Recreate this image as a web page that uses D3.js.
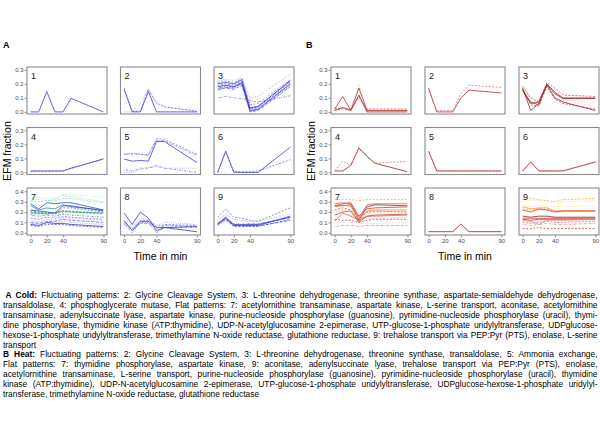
<!DOCTYPE html>
<html><head><meta charset="utf-8">
<script src="https://cdn.jsdelivr.net/npm/d3@7"></script>
<style>body{margin:0;background:#fff}svg{display:block}</style>
</head><body>
<svg id="c" width="600" height="424"></svg>
<script>
// ---------- data ----------
const timeMin = [0, 10, 20, 30, 40, 50, 90];
const xTicks = [0, 20, 40, 90];
const yTicksShort = [0, 0.1, 0.2, 0.3];
const yTicksTall = [0, 0.1, 0.2, 0.3, 0.4];
const panelLabels = ["1","2","3","4","5","6","7","8","9"];

// Cold (A) — EFM fraction per time point
const coldP1 = [[0,0,0.145,0,0,0.097,0]];
const coldP2 = [[0.16,0,0,0.145,0,0,0],[0.17,0.005,0.005,0.16,0.06,0.035,0.005],[0,0,0.06,0.165,0.07,0.04,0.005]];
const coldP3 = [
 [0.20,0.21,0.20,0.23,0.03,0.04,0.22],[0.19,0.20,0.19,0.22,0.02,0.03,0.21],
 [0.18,0.19,0.18,0.21,0.01,0.02,0.20],[0.17,0.185,0.175,0.20,0.005,0.015,0.19],
 [0.155,0.17,0.16,0.19,0,0.01,0.18],[0.21,0.22,0.21,0.235,0.05,0.06,0.23],
 [0.22,0.23,0.225,0.245,0.10,0.11,0.27],[0.10,0.11,0.10,0.095,0.08,0.07,0.115],
 [0.165,0.175,0.17,0.205,0.025,0.035,0.225]];
const coldP4 = [[0.01,0.01,0.01,0.01,0.01,0.03,0.095],[0.008,0.008,0.008,0.008,0.01,0.028,0.098]];
const coldP5 = [[0.095,0.08,0.085,0.08,0.22,0.22,0.07],[0.13,0.13,0.13,0.12,0.23,0.225,0.12],
 [0.13,0.135,0.13,0.125,0.24,0.235,0.13],[0.02,0.01,0.03,0.03,0.05,0.03,0],[0,0,0.02,0.035,0.04,0.03,0.03]];
const coldP6 = [[0,0.15,0,0,0,0,0.18],[0,0.15,0.005,0.005,0.005,0.01,0.09]];
const coldP7 = [
 [0.33,0.34,0.33,0.33,0.37,0.37,0.34],[0.31,0.32,0.31,0.32,0.36,0.35,0.30],
 [0.30,0.30,0.31,0.31,0.33,0.33,0.29],[0.28,0.23,0.29,0.28,0.29,0.29,0.22],
 [0.26,0.22,0.24,0.23,0.27,0.25,0.22],[0.22,0.21,0.20,0.19,0.26,0.26,0.21],
 [0.21,0.20,0.20,0.18,0.24,0.24,0.20],[0.19,0.19,0.18,0.19,0.21,0.20,0.19],
 [0.18,0.18,0.19,0.18,0.20,0.20,0.18],[0.20,0.19,0.19,0.20,0.21,0.21,0.19],
 [0.17,0.16,0.17,0.16,0.18,0.17,0.15],[0.14,0.13,0.15,0.14,0.16,0.15,0.13],
 [0.12,0.10,0.13,0.12,0.15,0.14,0.12],[0.10,0.09,0.11,0.11,0.13,0.12,0.10],
 [0.08,0.07,0.10,0.09,0.09,0.08,0.06],[0.07,0.06,0.08,0.08,0.08,0.07,0.05],
 [0.09,0.08,0.09,0.085,0.11,0.10,0.08]];
const coldP8 = [[0.19,0.08,0.20,0.14,0.02,0.05,0.06],[0.12,0.02,0.11,0.11,0.05,0.05,0.01],
 [0.10,0.04,0.12,0.12,0.06,0.08,0.07],[0.15,0.06,0.14,0.13,0.07,0.10,0.08],
 [0.09,0,0.10,0.10,0,0.05,0.05],[0.08,0.03,0.09,0.09,0.04,0.07,0.06]];
const coldP9 = [[0.15,0.23,0.15,0.14,0.12,0.11,0.24],[0.12,0.18,0.13,0.12,0.11,0.11,0.18],
 [0.09,0.14,0.07,0.07,0.07,0.07,0.16],[0.08,0.15,0.08,0.08,0.08,0.08,0.15],
 [0.07,0.12,0.06,0.06,0.06,0.06,0.13],[0.10,0.13,0.09,0.08,0.09,0.09,0.14],
 [0.08,0.13,0.07,0.065,0.065,0.065,0.12]];

// Heat (B)
const heatP1 = [[0.02,0.11,0.01,0.17,0.01,0.01,0.01],[0.01,0.03,0.01,0.12,0,0,0],
 [0.02,0.03,0.02,0.11,0.02,0.02,0.02],[0.03,0.03,0.02,0.20,0.02,0.02,0.02],[0.01,0.02,0.01,0.10,0.01,0.01,0.01]];
const heatP2 = [[0.17,0,0,0,0.10,0.155,0.135],[0.15,0.01,0.01,0.01,0.13,0.19,0.175]];
const heatP3 = [[0.17,0.01,0.06,0.19,0.10,0.07,0.01],[0.15,0.07,0.05,0.20,0.14,0.10,0.10],
 [0.18,0.10,0.07,0.21,0.17,0.12,0.11],[0.18,0.08,0.06,0.19,0.12,0.09,0.06],
 [0.16,0.05,0.04,0.18,0.09,0.06,0.02],[0.19,0.10,0.08,0.20,0.10,0.08,0.04],
 [0.16,0.06,0.07,0.195,0.13,0.095,0.095]];
const heatP4 = [[0.01,0.01,0.05,0.175,0.115,0.065,0.005],[0.01,0.08,0.05,0.17,0.11,0.065,0.078]];
const heatP5 = [[0.15,0.01,0.01,0.01,0.01,0.01,0.01],[0.15,0.012,0.012,0.012,0.012,0.012,0.012]];
const heatP6 = [[0.01,0.075,0.01,0.01,0.01,0.01,0.075],[0.01,0.072,0.012,0.012,0.012,0.012,0.072]];
const heatP7 = [
 [0.32,0.32,0.32,0.31,0.32,0.32,0.32],[0.26,0.26,0.27,0.12,0.25,0.27,0.26],
 [0.26,0.28,0.29,0.16,0.23,0.24,0.25],[0.25,0.27,0.25,0.13,0.21,0.22,0.22],
 [0.22,0.24,0.22,0.11,0.20,0.21,0.20],[0.17,0.20,0.21,0.10,0.16,0.17,0.18],
 [0.11,0.19,0.16,0.12,0.16,0.16,0.17],[0.15,0.16,0.17,0.14,0.14,0.14,0.15],
 [0.13,0.12,0.12,0.10,0.12,0.13,0.13],[0.10,0.10,0.10,0.09,0.09,0.09,0.10],
 [0.06,0.07,0.07,0.06,0.07,0.07,0.07],[0.20,0.22,0.20,0.15,0.19,0.20,0.21],
 [0.28,0.29,0.28,0.14,0.27,0.28,0.28]];
const heatP8 = [[0.01,0.01,0.01,0.01,0.085,0.01,0.01],[0.012,0.012,0.012,0.012,0.082,0.012,0.012]];
const heatP9 = [
 [0.32,0.33,0.32,0.31,0.30,0.32,0.33],[0.30,0.31,0.31,0.30,0.28,0.30,0.31],
 [0.25,0.23,0.24,0.24,0.21,0.21,0.21],[0.23,0.22,0.22,0.23,0.21,0.21,0.21],
 [0.26,0.25,0.26,0.25,0.25,0.25,0.26],[0.22,0.20,0.23,0.22,0.20,0.21,0.21],
 [0.14,0.14,0.14,0.14,0.14,0.14,0.14],[0.13,0.12,0.13,0.13,0.13,0.13,0.13],
 [0.16,0.15,0.16,0.16,0.15,0.15,0.15],[0.10,0.09,0.10,0.11,0.10,0.10,0.11],
 [0.11,0.10,0.11,0.12,0.11,0.11,0.12],[0.08,0.07,0.08,0.09,0.08,0.08,0.09],
 [0.04,0.04,0.05,0.04,0.04,0.04,0.04],[0.12,0.11,0.08,0.12,0.12,0.12,0.13]];

const captionCold = [
 "A Cold: Fluctuating patterns: 2: Glycine Cleavage System, 3: L-threonine dehydrogenase, threonine synthase, aspartate-semialdehyde dehydrogenase,",
 "transaldolase, 4: phosphoglycerate mutase, Flat patterns: 7: acetylornithine transaminase, aspartate kinase, L-serine transport, aconitase, acetylornithine",
 "transaminase, adenylsuccinate lyase, aspartate kinase, purine-nucleoside phosphorylase (guanosine), pyrimidine-nucleoside phosphorylase (uracil), thymi-",
 "dine phosphorylase, thymidine kinase (ATP:thymidine), UDP-N-acetylglucosamine 2-epimerase, UTP-glucose-1-phosphate uridylyltransferase, UDPglucose-",
 "hexose-1-phosphate uridylyltransferase, trimethylamine N-oxide reductase, glutathione reductase, 9: trehalose transport via PEP:Pyr (PTS), enolase, L-serine",
 "transport"];
const captionHeat = [
 "B Heat: Fluctuating patterns: 2: Glycine Cleavage System, 3: L-threonine dehydrogenase, threonine synthase, transaldolase, 5: Ammonia exchange,",
 "Flat patterns: 7: thymidine phosphorylase, aspartate kinase, 9: aconitase, adenylsuccinate lyase, trehalose transport via PEP:Pyr (PTS), enolase,",
 "acetylornithine transaminase, L-serine transport, purine-nucleoside phosphorylase (guanosine), pyrimidine-nucleoside phosphorylase (uracil), thymidine",
 "kinase (ATP:thymidine), UDP-N-acetylglucosamine 2-epimerase, UTP-glucose-1-phosphate uridylyltransferase, UDPglucose-hexose-1-phosphate uridylyl-",
 "transferase, trimethylamine N-oxide reductase, glutathione reductase"];

// ---------- styles (separate from data) ----------
const LT = {s:null, d:"2,1.5", o:"0.6,1.2", dd:"0.6,1.2,2,1.2", l:"3.5,1.2", t:"1,1,3,1"};
const B1="#3030d8", B2="#4b4be6", B3="#6464f0", B4="#2a2ab8", DB="#1f4aa8", TE="#178c8c", GR="#2fb06a", LG="#7cd8a4", MG="#4cc38a";
const R1="#8b1a1a", R2="#b52020", R3="#cc3030", R4="#d95a5a", R5="#e88a8a", OR="#ff8c1a", YE="#ffc020", O2="#f5a030";
const coldStyle = [
 [[B1,"s"]],
 [[B1,"s"],[B2,"d"],[B3,"o"]],
 [[B1,"s"],[B2,"d"],[B4,"s"],[B1,"dd"],[B2,"l"],[B3,"d"],[B3,"o"],[B2,"dd"],[B4,"t"]],
 [[B1,"s"],[B2,"d"]],
 [[B1,"s"],[B2,"dd"],[B3,"d"],[B2,"dd"],[B3,"o"]],
 [[B1,"s"],[B2,"d"]],
 [[LG,"o"],[MG,"o"],[LG,"d"],[DB,"s"],[TE,"s"],[B1,"s"],[B2,"d"],[GR,"s"],[GR,"d"],[TE,"d"],[B2,"dd"],[B3,"d"],[B3,"o"],[B2,"l"],[B4,"s"],[B1,"d"],[B3,"o"]],
 [[B1,"s"],[B4,"s"],[B2,"d"],[B3,"o"],[B2,"dd"],[B3,"l"]],
 [[B2,"d"],[B3,"o"],[B1,"s"],[B4,"s"],[B2,"d"],[B3,"dd"],[B1,"l"]]];
const heatStyle = [
 [[R2,"s"],[R1,"s"],[R3,"d"],[R5,"o"],[R4,"d"]],
 [[R2,"s"],[R4,"d"]],
 [[R1,"s"],[R2,"s"],[R3,"d"],[R5,"o"],[R2,"d"],[R5,"o"],[R1,"s"]],
 [[R1,"s"],[R4,"d"]],
 [[R1,"s"],[R4,"d"]],
 [[R1,"s"],[R4,"d"]],
 [[OR,"d"],[R1,"s"],[R3,"s"],[OR,"s"],[R2,"d"],[R3,"s"],[R4,"s"],[R5,"o"],[R2,"d"],[R5,"o"],[R4,"dd"],[OR,"dd"],[R4,"s"]],
 [[R1,"s"],[R4,"d"]],
 [[OR,"d"],[YE,"o"],[OR,"s"],[O2,"d"],[YE,"o"],[R3,"s"],[R3,"s"],[R2,"s"],[R1,"s"],[R4,"d"],[R5,"o"],[R4,"dd"],[R2,"d"],[R5,"s"]]];

// ---------- layout ----------
const svg = d3.select("#c");
const FONT = "'Liberation Sans', Arial, Helvetica, sans-serif";
const PW = 80, PH = 47;
const rowTop = [67, 127.5, 188];
const groups = [
 {key:"A", cols:[27,120.5,214], data:[coldP1,coldP2,coldP3,coldP4,coldP5,coldP6,coldP7,coldP8,coldP9], style:coldStyle, labelX:3, yTitleX:11, xTitleX:160.5},
 {key:"B", cols:[331,425,519], data:[heatP1,heatP2,heatP3,heatP4,heatP5,heatP6,heatP7,heatP8,heatP9], style:heatStyle, labelX:306, yTitleX:315, xTitleX:465}
];
const defs = svg.append("defs");

groups.forEach(g => {
  svg.append("text").attr("x", g.labelX).attr("y", 48).attr("font-family", FONT)
    .attr("font-weight", "bold").attr("font-size", 9).text(g.key);
  svg.append("text").attr("transform", `translate(${g.yTitleX},151) rotate(-90)`)
    .attr("text-anchor", "middle").attr("font-family", FONT).attr("font-size", 10.5).text("EFM fraction");
  svg.append("text").attr("x", g.xTitleX).attr("y", 260).attr("text-anchor", "middle")
    .attr("font-family", FONT).attr("font-size", 10.5).text("Time in min");

  g.data.forEach((series, i) => {
    const r = Math.floor(i / 3), c = i % 3;
    const left = g.cols[c], top = rowTop[r];
    const x = d3.scaleLinear().domain([-4.5, 94.5]).range([left, left + PW]);
    const y = d3.scaleLinear().domain(r < 2 ? [-0.015, 0.32] : [-0.022, 0.432]).range([top + PH, top]);
    const cid = `clip${g.key}${i}`;
    defs.append("clipPath").attr("id", cid).append("rect")
      .attr("x", left).attr("y", top).attr("width", PW).attr("height", PH);
    const p = svg.append("g");
    p.append("rect").attr("x", left).attr("y", top).attr("width", PW).attr("height", PH).attr("fill", "#fff");
    const line = d3.line().x((d, k) => x(timeMin[k])).y(d => y(d));
    const lg = p.append("g").attr("clip-path", `url(#${cid})`);
    series.forEach((vals, k) => {
      const st = g.style[i][k] || [g.style[i][0][0], "s"];
      lg.append("path").attr("d", line(vals)).attr("fill", "none")
        .attr("stroke", st[0]).attr("stroke-width", st[1] === "s" ? 0.75 : 0.65)
        .attr("stroke-dasharray", LT[st[1]]).attr("stroke-linejoin", "round");
    });
    p.append("rect").attr("x", left).attr("y", top).attr("width", PW).attr("height", PH)
      .attr("fill", "none").attr("stroke", "#8a8a8a").attr("stroke-width", 1.1);
    p.append("text").attr("x", left + 4).attr("y", top + 12).attr("font-family", FONT)
      .attr("font-size", 9).attr("fill", "#1a1a1a").text(panelLabels[i]);

    if (c === 0) {
      const ax = svg.append("g").attr("transform", `translate(${left},0)`)
        .call(d3.axisLeft(y).tickValues(r < 2 ? yTicksShort : yTicksTall).tickSize(2.5).tickPadding(1).tickFormat(d3.format(".1f")));
      styleAxis(ax);
    }
    if (r === 2) {
      const ax = svg.append("g").attr("transform", `translate(0,${top + PH})`)
        .call(d3.axisBottom(x).tickValues(xTicks).tickSize(2.5).tickPadding(1).tickFormat(d3.format("d")));
      styleAxis(ax);
    }
  });
});

function styleAxis(ax) {
  ax.select(".domain").remove();
  ax.selectAll(".tick line").attr("stroke", "#555").attr("stroke-width", 0.6);
  ax.selectAll(".tick text").attr("fill", "#4d4d4d").attr("font-size", 6).attr("font-family", FONT);
}

// ---------- caption (justified) ----------
const CAP_FS = 8.4, CAP_LH = 9.9, CAP_L = 3, CAP_R = 597.5;
function drawParagraph(lines, startY, prefix, indent) {
  lines.forEach((ln, j) => {
    const t = svg.append("text").attr("y", startY + j * CAP_LH).attr("font-family", FONT)
      .attr("font-size", CAP_FS).attr("fill", "#000").style("white-space", "pre");
    const x0 = CAP_L + (j === 0 ? indent : 0);
    t.attr("x", x0);
    if (j === 0 && ln.startsWith(prefix)) {
      t.append("tspan").attr("font-weight", "bold").text(prefix);
      t.append("tspan").text(ln.slice(prefix.length));
    } else {
      t.text(ln);
    }
    if (j < lines.length - 1) {
      const w = t.node().getComputedTextLength();
      const spaces = (ln.match(/ /g) || []).length;
      const extra = (CAP_R - x0 - w) / spaces;
      t.style("word-spacing", extra + "px");
    }
  });
}
drawParagraph(captionCold, 298, "A Cold:", 2.5);
drawParagraph(captionHeat, 298 + 6 * CAP_LH, "B Heat:", 0);
</script>
</body></html>
